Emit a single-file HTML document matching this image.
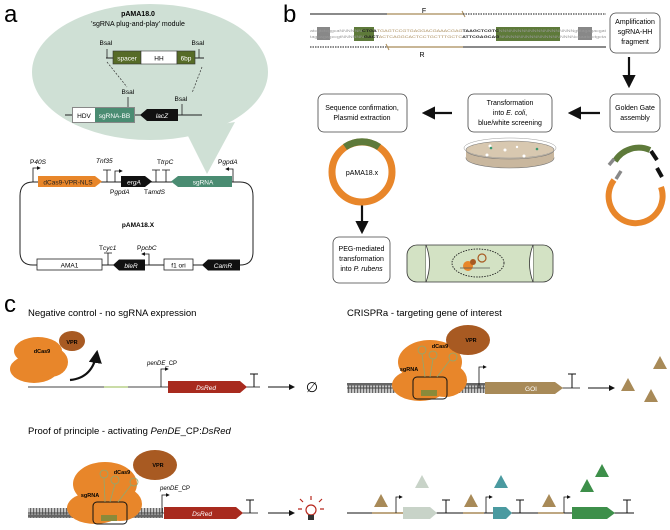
<!DOCTYPE html>
<html><head><meta charset="utf-8"><style>
html,body{margin:0;padding:0;background:#fff}
svg{display:block;font-family:"Liberation Sans",Arial,sans-serif}
</style></head><body>
<svg width="670" height="530" viewBox="0 0 670 530" xmlns="http://www.w3.org/2000/svg">
<defs>
<marker id="ah" markerWidth="6" markerHeight="6" refX="5" refY="3" orient="auto"><path d="M0,0 L6,3 L0,6 z" fill="#111"/></marker>
<marker id="ap" markerWidth="5" markerHeight="5" refX="4" refY="2.5" orient="auto"><path d="M0,0 L5,2.5 L0,5 z" fill="#111"/></marker>
<pattern id="dna" width="3" height="12" patternUnits="userSpaceOnUse"><rect width="3" height="12" fill="#666"/><rect x="1.3" y="1.5" width="1.5" height="9" fill="#e0e0e0"/></pattern>
</defs>
<!-- PANEL A -->
<text x="4" y="22" font-size="24">a</text>
<ellipse cx="150" cy="72" rx="118" ry="68" fill="#cfe0d5"/>
<path d="M185,130 L235,122 L207,174 Z" fill="#cfe0d5"/>
<text x="138" y="16" font-size="7" font-weight="bold" text-anchor="middle">pAMA18.0</text>
<text x="138" y="26" font-size="7" text-anchor="middle">'sgRNA plug-and-play' module</text>
<line x1="106" y1="58" x2="204" y2="58" stroke="#222" stroke-width="1"/>
<rect x="113" y="51" width="28" height="13" fill="#566b27" stroke="#333" stroke-width=".6"/>
<rect x="141" y="51" width="36" height="13" fill="#fff" stroke="#333" stroke-width=".6"/>
<rect x="177" y="51" width="18" height="13" fill="#566b27" stroke="#333" stroke-width=".6"/>
<text x="127" y="60.5" font-size="6.5" fill="#fff" text-anchor="middle">spacer</text>
<text x="159" y="60.5" font-size="6.5" text-anchor="middle">HH</text>
<text x="186" y="60.5" font-size="6.5" fill="#fff" text-anchor="middle">6bp</text>
<text x="106" y="45" font-size="6.5" text-anchor="middle">BsaI</text>
<text x="198" y="45" font-size="6.5" text-anchor="middle">BsaI</text>
<line x1="107" y1="49" x2="107" y2="58" stroke="#222" stroke-width=".8"/>
<line x1="199" y1="49" x2="199" y2="58" stroke="#222" stroke-width=".8"/>
<line x1="107" y1="62" x2="127" y2="87" stroke="#333" stroke-width=".7" stroke-dasharray="2,1.5"/>
<line x1="202" y1="67" x2="192" y2="93" stroke="#333" stroke-width=".7" stroke-dasharray="2,1.5"/>
<line x1="65" y1="115" x2="202" y2="115" stroke="#222" stroke-width="1"/>
<rect x="72" y="107" width="63" height="16" fill="#888"/>
<rect x="73" y="108" width="22" height="14" fill="#fff"/>
<rect x="95" y="108" width="39" height="14" fill="#4a8c72"/>
<text x="84" y="118" font-size="6.5" text-anchor="middle">HDV</text>
<text x="114.5" y="118" font-size="6.5" fill="#fff" text-anchor="middle">sgRNA-BB</text>
<path d="M178,109 L147,109 L140,115 L147,121 L178,121 Z" fill="#111"/>
<text x="162" y="118" font-size="6.5" fill="#fff" font-style="italic" text-anchor="middle">lacZ</text>
<text x="128" y="94" font-size="6.5" text-anchor="middle">BsaI</text>
<line x1="128" y1="97" x2="128" y2="107" stroke="#222" stroke-width=".8"/>
<text x="181" y="101" font-size="6.5" text-anchor="middle">BsaI</text>
<line x1="182" y1="104" x2="182" y2="115" stroke="#222" stroke-width=".8"/>
<!-- plasmid -->
<path d="M38,182 L232,182 L240,182 Q253,182 253,196 L253,252 Q253,265 240,265 L33,265 Q20,265 20,252 L20,196 Q20,182 33,182 Z" fill="none" stroke="#222" stroke-width="1"/>
<path d="M38,176 L95,176 L102,181.5 L95,187 L38,187 Z" fill="#e8862a"/>
<text x="68" y="184.5" font-size="6.5" fill="#222" text-anchor="middle">dCas9-VPR-NLS</text>
<path d="M33,182 L33,168 L40,168" fill="none" stroke="#111" stroke-width=".8" marker-end="url(#ap)"/>
<text x="30" y="164" font-size="6.5">P<tspan font-style="italic">40S</tspan></text>
<path d="M107,182 L107,170 M103,170 L111,170" stroke="#111" stroke-width=".8"/>
<text x="96" y="163" font-size="6.5" font-style="italic">Tnf35</text>
<path d="M115,182 L115,171 L122,171" fill="none" stroke="#111" stroke-width=".8" marker-end="url(#ap)"/>
<path d="M121,176 L145,176 L152,181.5 L145,187 L121,187 Z" fill="#111"/>
<text x="134" y="184.5" font-size="6.5" fill="#fff" font-style="italic" text-anchor="middle">ergA</text>
<text x="110" y="194" font-size="6.5">P<tspan font-style="italic">gpdA</tspan></text>
<path d="M156,182 L156,170 M152,170 L160,170 M166,182 L166,170 M162,170 L170,170" stroke="#111" stroke-width=".8"/>
<text x="157" y="164" font-size="6.5">T<tspan font-style="italic">trpC</tspan></text>
<text x="144" y="194" font-size="6.5">T<tspan font-style="italic">amdS</tspan></text>
<path d="M232,176 L178,176 L171,181.5 L178,187 L232,187 Z" fill="#4a8c72"/>
<text x="203" y="184.5" font-size="6.5" fill="#fff" text-anchor="middle">sgRNA</text>
<path d="M233,182 L233,169 L226,169" fill="none" stroke="#111" stroke-width=".8" marker-end="url(#ap)"/>
<text x="218" y="164" font-size="6.5">P<tspan font-style="italic">gpdA</tspan></text>
<text x="138" y="227" font-size="6.5" font-weight="bold" text-anchor="middle">pAMA18.X</text>
<rect x="37" y="259" width="65" height="11" fill="#fff" stroke="#222" stroke-width=".8"/>
<text x="69.5" y="267.5" font-size="6.5" text-anchor="middle">AMA1</text>
<path d="M108,265 L108,253 M104,253 L112,253" stroke="#111" stroke-width=".8"/>
<text x="99" y="250" font-size="6.5">T<tspan font-style="italic">cyc1</tspan></text>
<path d="M145,259.5 L119,259.5 L113,265 L119,270.5 L145,270.5 Z" fill="#111"/>
<text x="131" y="268" font-size="6.5" fill="#fff" font-style="italic" text-anchor="middle">bleR</text>
<path d="M149,265 L149,254 L142,254" fill="none" stroke="#111" stroke-width=".8" marker-end="url(#ap)"/>
<text x="137" y="250" font-size="6.5">P<tspan font-style="italic">pcbC</tspan></text>
<rect x="164" y="259" width="29" height="11" fill="#fff" stroke="#222" stroke-width=".8"/>
<text x="178.5" y="267.5" font-size="6.5" text-anchor="middle">f1 ori</text>
<path d="M240,259.5 L208,259.5 L202,265 L208,270.5 L240,270.5 Z" fill="#111"/>
<text x="223" y="268" font-size="6.5" fill="#fff" font-style="italic" text-anchor="middle">CamR</text>

<!-- PANEL B -->
<text x="283" y="22" font-size="24">b</text>
<line x1="310" y1="14" x2="387" y2="14" stroke="#444" stroke-width="1.3"/>
<line x1="387" y1="14" x2="463" y2="14" stroke="#a88a58" stroke-width="1.3"/>
<line x1="462" y1="11" x2="465" y2="17" stroke="#a88a58" stroke-width="1"/>
<line x1="463" y1="14" x2="606" y2="14" stroke="#444" stroke-width="1.2" stroke-dasharray="1.5,1"/>
<text x="424" y="13" font-size="7" text-anchor="middle">F</text>
<rect x="317" y="27" width="13" height="13" fill="#888"/>
<rect x="578" y="27" width="14" height="13" fill="#888"/>
<rect x="354" y="27" width="20" height="14" fill="#5e7a3a"/>
<rect x="496" y="27" width="64" height="14" fill="#5e7a3a"/>
<text x="310" y="32" font-size="4" fill="#999" textLength="296" lengthAdjust="spacingAndGlyphs">atcgtctcggcaNNNNNN<tspan fill="#222" font-weight="bold">CTGA</tspan><tspan fill="#a88a58">TGAGTCCGTGAGGACGAAACGAG</tspan><tspan fill="#222" font-weight="bold">TAAGCTCGTC</tspan>NNNNNNNNNNNNNNNNNNNNgtttagagacgat</text>
<text x="310" y="38" font-size="4" fill="#999" textLength="296" lengthAdjust="spacingAndGlyphs">tagcagagccgtNNNNNN<tspan fill="#222" font-weight="bold">GACT</tspan><tspan fill="#a88a58">ACTCAGGCACTCCTGCTTTGCTC</tspan><tspan fill="#222" font-weight="bold">ATTCGAGCAG</tspan>NNNNNNNNNNNNNNNNNNNNcaaatctctgcta</text>
<line x1="310" y1="47" x2="387" y2="47" stroke="#444" stroke-width="1.2" stroke-dasharray="1.5,1"/>
<line x1="387" y1="47" x2="463" y2="47" stroke="#a88a58" stroke-width="1.3"/>
<line x1="386" y1="44" x2="389" y2="50" stroke="#a88a58" stroke-width="1"/>
<line x1="463" y1="47" x2="606" y2="47" stroke="#444" stroke-width="1.3"/>
<text x="422" y="57" font-size="7" text-anchor="middle">R</text>
<g font-size="7" text-anchor="middle">
<rect x="610" y="13" width="50" height="40" rx="6" fill="#fff" stroke="#444" stroke-width=".8"/>
<text x="635" y="24">Amplification</text><text x="635" y="34">sgRNA-HH</text><text x="635" y="44">fragment</text>
<rect x="610" y="94" width="50" height="38" rx="6" fill="#fff" stroke="#444" stroke-width=".8"/>
<text x="635" y="110">Golden Gate</text><text x="635" y="120">assembly</text>
<rect x="468" y="94" width="84" height="38" rx="6" fill="#fff" stroke="#444" stroke-width=".8"/>
<text x="510" y="105">Transformation</text><text x="510" y="115">into <tspan font-style="italic">E. coli</tspan>,</text><text x="510" y="125">blue/white screening</text>
<rect x="318" y="94" width="89" height="38" rx="6" fill="#fff" stroke="#444" stroke-width=".8"/>
<text x="362" y="110">Sequence confirmation,</text><text x="362" y="120">Plasmid extraction</text>
<rect x="333" y="237" width="57" height="46" rx="6" fill="#fff" stroke="#444" stroke-width=".8"/>
<text x="361.5" y="251">PEG-mediated</text><text x="361.5" y="261">transformation</text><text x="361.5" y="271">into <tspan font-style="italic">P. rubens</tspan></text>
</g>
<line x1="629" y1="57" x2="629" y2="86" stroke="#111" stroke-width="2.2" marker-end="url(#ah)"/>
<line x1="600" y1="113" x2="570" y2="113" stroke="#111" stroke-width="2.2" marker-end="url(#ah)"/>
<line x1="452" y1="113" x2="424" y2="113" stroke="#111" stroke-width="2.2" marker-end="url(#ah)"/>
<line x1="362" y1="203" x2="362" y2="232" stroke="#111" stroke-width="2.2" marker-end="url(#ah)"/>
<circle cx="362" cy="172" r="30" fill="#fff" stroke="#e8862a" stroke-width="7"/>
<path d="M345,147 A30,30 0 0 1 379,147" fill="none" stroke="#5e7a3a" stroke-width="7"/>
<text x="362" y="175" font-size="7" text-anchor="middle">pAMA18.x</text>
<!-- petri -->
<ellipse cx="510" cy="158" rx="44" ry="10" fill="#c9b79e" stroke="#777" stroke-width=".6"/>
<rect x="466" y="150" width="88" height="8" fill="#c9b79e"/>
<ellipse cx="510" cy="150" rx="44" ry="9" fill="#d8c8b0" stroke="#777" stroke-width=".6"/>
<ellipse cx="510" cy="148" rx="46" ry="10" fill="none" stroke="#999" stroke-width=".5"/>
<circle cx="490" cy="146" r="1.5" fill="#fff"/><circle cx="505" cy="150" r="1.5" fill="#fff"/><circle cx="524" cy="156" r="1.5" fill="#fff"/><circle cx="487" cy="155" r="1.5" fill="#fff"/><circle cx="517" cy="147" r="1.2" fill="#fff"/>
<circle cx="491" cy="148" r="1.3" fill="#3a9a70"/><circle cx="537" cy="149" r="1.3" fill="#3a9a70"/>
<!-- golden gate plasmid -->
<path d="M614,180 A27,27 0 1 0 661,187" fill="none" stroke="#e8862a" stroke-width="6"/>
<path d="M616,179 L621,171" stroke="#888" stroke-width="3.5"/>
<path d="M615,161 A28,28 0 0 1 650,150" fill="none" stroke="#5e7a3a" stroke-width="6"/>
<path d="M609,165 L614,159" stroke="#888" stroke-width="3.5"/>
<path d="M651,151 L657,160" stroke="#111" stroke-width="4"/>
<path d="M657,168 L662,177" stroke="#111" stroke-width="4"/>
<!-- cell -->
<rect x="407" y="245" width="146" height="37" rx="10" fill="#d3e2c4" stroke="#333" stroke-width=".8"/>
<line x1="426" y1="245" x2="426" y2="282" stroke="#333" stroke-width=".8"/>
<line x1="533" y1="245" x2="533" y2="282" stroke="#333" stroke-width=".8"/>
<path d="M426,245 Q433,263 426,282 M533,245 Q526,263 533,282" fill="#fff" stroke="#333" stroke-width=".8"/>
<ellipse cx="478" cy="263" rx="26" ry="14" fill="none" stroke="#222" stroke-width=".9" stroke-dasharray="1.5,1.2"/>
<circle cx="468" cy="266" r="5" fill="#e8862a"/><circle cx="473" cy="262" r="3" fill="#a85a22"/>
<circle cx="482" cy="258" r="4" fill="none" stroke="#a85a22" stroke-width="1.2"/>
<line x1="460" y1="268" x2="490" y2="268" stroke="#555" stroke-width=".8"/>

<!-- PANEL C -->
<text x="4" y="312" font-size="24">c</text>
<g font-size="9.5">
<text x="28" y="316">Negative control - no sgRNA expression</text>
<text x="347" y="316">CRISPRa - targeting gene of interest</text>
<text x="28" y="434">Proof of principle - activating <tspan font-style="italic">PenDE</tspan>_CP:<tspan font-style="italic">DsRed</tspan></text>
</g>
<!-- neg control -->
<g fill="#e8862a">
<ellipse cx="38" cy="351" rx="24" ry="14"/><ellipse cx="34" cy="369" rx="24" ry="14"/><ellipse cx="50" cy="362" rx="18" ry="15"/>
</g>
<ellipse cx="72" cy="341" rx="13" ry="10" fill="#a85a22"/>
<text x="72" y="344" font-size="5.5" font-weight="bold" text-anchor="middle">VPR</text>
<text x="42" y="353" font-size="5.5" font-weight="bold" text-anchor="middle">dCas9</text>
<path d="M70,380 Q93,378 97,352" fill="none" stroke="#111" stroke-width="2.2" marker-end="url(#ah)"/>
<line x1="28" y1="387" x2="260" y2="387" stroke="#444" stroke-width="1"/>
<line x1="104" y1="387" x2="128" y2="387" stroke="#b8d08a" stroke-width="1.5"/>
<path d="M161,387 L161,369 L168,369" fill="none" stroke="#111" stroke-width=".8" marker-end="url(#ap)"/>
<text x="147" y="365" font-size="6"><tspan font-style="italic">penDE</tspan>_CP</text>
<path d="M168,381 L240,381 L247,387 L240,393 L168,393 Z" fill="#a82a1e"/>
<text x="206" y="390" font-size="6.5" fill="#fff" font-style="italic" text-anchor="middle">DsRed</text>
<path d="M254,387 L254,374 M250,374 L258,374" stroke="#111" stroke-width="1"/>
<line x1="268" y1="387" x2="294" y2="387" stroke="#111" stroke-width="1" marker-end="url(#ah)"/>
<text x="312" y="392" font-size="14" text-anchor="middle">∅</text>
<!-- CRISPRa -->
<rect x="347" y="383" width="140" height="10" fill="url(#dna)"/>
<line x1="347" y1="388" x2="580" y2="388" stroke="#444" stroke-width="1"/>
<g fill="#e8862a">
<ellipse cx="430" cy="362" rx="32" ry="22"/><ellipse cx="420" cy="385" rx="28" ry="16"/><ellipse cx="445" cy="380" rx="22" ry="17"/>
</g>
<ellipse cx="468" cy="340" rx="22" ry="15" fill="#a85a22"/>
<text x="471" y="342" font-size="5.5" font-weight="bold" text-anchor="middle">VPR</text>
<text x="440" y="348" font-size="5.5" font-weight="bold" text-anchor="middle">dCas9</text>
<text x="409" y="371" font-size="5.5" font-weight="bold" text-anchor="middle">sgRNA</text>
<rect x="413" y="377" width="34" height="22" rx="4" fill="none" stroke="#111" stroke-width="1"/>
<rect x="421" y="390" width="16" height="6" fill="#8a8a3a"/>
<g fill="none" stroke="#8fa870" stroke-width=".8"><circle cx="422" cy="350" r="4"/><circle cx="433" cy="355" r="4"/><circle cx="453" cy="357" r="4"/><path d="M422,354 L425,377 M433,359 L430,377 M450,360 L437,377"/></g>
<path d="M479,388 L479,367 L486,367" fill="none" stroke="#111" stroke-width=".8" marker-end="url(#ap)"/>
<path d="M485,382 L555,382 L563,388 L555,394 L485,394 Z" fill="#a88a58"/>
<text x="531" y="391" font-size="6.5" fill="#fff" text-anchor="middle">GOI</text>
<path d="M572,388 L572,374 M568,374 L576,374" stroke="#111" stroke-width="1"/>
<line x1="588" y1="388" x2="614" y2="388" stroke="#111" stroke-width="1" marker-end="url(#ah)"/>
<g fill="#a88a58"><path d="M628,378 L621,391 L635,391 Z"/><path d="M660,356 L653,369 L667,369 Z"/><path d="M651,389 L644,402 L658,402 Z"/></g>
<!-- proof -->
<rect x="28" y="508" width="135" height="10" fill="url(#dna)"/>
<line x1="28" y1="513" x2="258" y2="513" stroke="#444" stroke-width="1"/>
<g fill="#e8862a">
<ellipse cx="105" cy="484" rx="32" ry="22"/><ellipse cx="95" cy="508" rx="28" ry="16"/><ellipse cx="120" cy="504" rx="22" ry="17"/>
</g>
<ellipse cx="155" cy="465" rx="22" ry="15" fill="#a85a22"/>
<text x="158" y="467" font-size="5.5" font-weight="bold" text-anchor="middle">VPR</text>
<text x="122" y="474" font-size="5.5" font-weight="bold" text-anchor="middle">dCas9</text>
<text x="90" y="497" font-size="5.5" font-weight="bold" text-anchor="middle">sgRNA</text>
<rect x="93" y="502" width="34" height="22" rx="4" fill="none" stroke="#111" stroke-width="1"/>
<rect x="101" y="515" width="16" height="6" fill="#8a8a3a"/>
<g fill="none" stroke="#8fa870" stroke-width=".8"><circle cx="104" cy="474" r="4"/><circle cx="115" cy="480" r="4"/><circle cx="134" cy="482" r="4"/><path d="M104,478 L105,502 M115,484 L110,502 M131,485 L118,502"/></g>
<path d="M162,513 L162,495 L169,495" fill="none" stroke="#111" stroke-width=".8" marker-end="url(#ap)"/>
<text x="160" y="490" font-size="6"><tspan font-style="italic">penDE</tspan>_CP</text>
<path d="M164,507 L236,507 L243,513 L236,519 L164,519 Z" fill="#a82a1e"/>
<text x="202" y="516" font-size="6.5" fill="#fff" font-style="italic" text-anchor="middle">DsRed</text>
<path d="M250,513 L250,500 M246,500 L254,500" stroke="#111" stroke-width="1"/>
<line x1="268" y1="513" x2="294" y2="513" stroke="#111" stroke-width="1" marker-end="url(#ah)"/>
<g stroke="#b8281e" stroke-width="1.2" fill="none"><circle cx="311" cy="510" r="5"/><path d="M303,502 L300,499 M311,500 L311,496 M319,502 L322,499 M302,509 L298,509 M320,509 L324,509"/></g>
<rect x="308" y="515" width="6" height="5" fill="#333"/>
<!-- multi gene -->
<line x1="347" y1="513" x2="634" y2="513" stroke="#111" stroke-width="1"/>
<g stroke="#a88a58" stroke-width="1.5"><line x1="372" y1="513" x2="403" y2="513"/><line x1="463" y1="513" x2="484" y2="513"/><line x1="538" y1="513" x2="564" y2="513"/></g>
<path d="M403,507 L430,507 L437,513 L430,519 L403,519 Z" fill="#c8d3c8"/>
<path d="M493,507 L506,507 L512,513 L506,519 L493,519 Z" fill="#4a9aa0"/>
<path d="M572,507 L607,507 L615,513 L607,519 L572,519 Z" fill="#3d8f4a"/>
<g fill="none" stroke="#111" stroke-width=".8"><path d="M396,513 L396,497 L402,497" marker-end="url(#ap)"/><path d="M486,513 L486,497 L492,497" marker-end="url(#ap)"/><path d="M564,513 L564,497 L570,497" marker-end="url(#ap)"/></g>
<path d="M446,513 L446,500 M442,500 L450,500 M520,513 L520,500 M516,500 L524,500 M627,513 L627,500 M623,500 L631,500" stroke="#111" stroke-width="1"/>
<g fill="#a88a58"><path d="M381,494 L374,507 L388,507 Z"/><path d="M471,494 L464,507 L478,507 Z"/><path d="M549,494 L542,507 L556,507 Z"/></g>
<path d="M422,475 L415,488 L429,488 Z" fill="#c8d3c8"/>
<path d="M501,475 L494,488 L508,488 Z" fill="#4a9aa0"/>
<path d="M587,479 L580,492 L594,492 Z" fill="#3d8f4a"/>
<path d="M602,464 L595,477 L609,477 Z" fill="#3d8f4a"/>
</svg>
</body></html>
